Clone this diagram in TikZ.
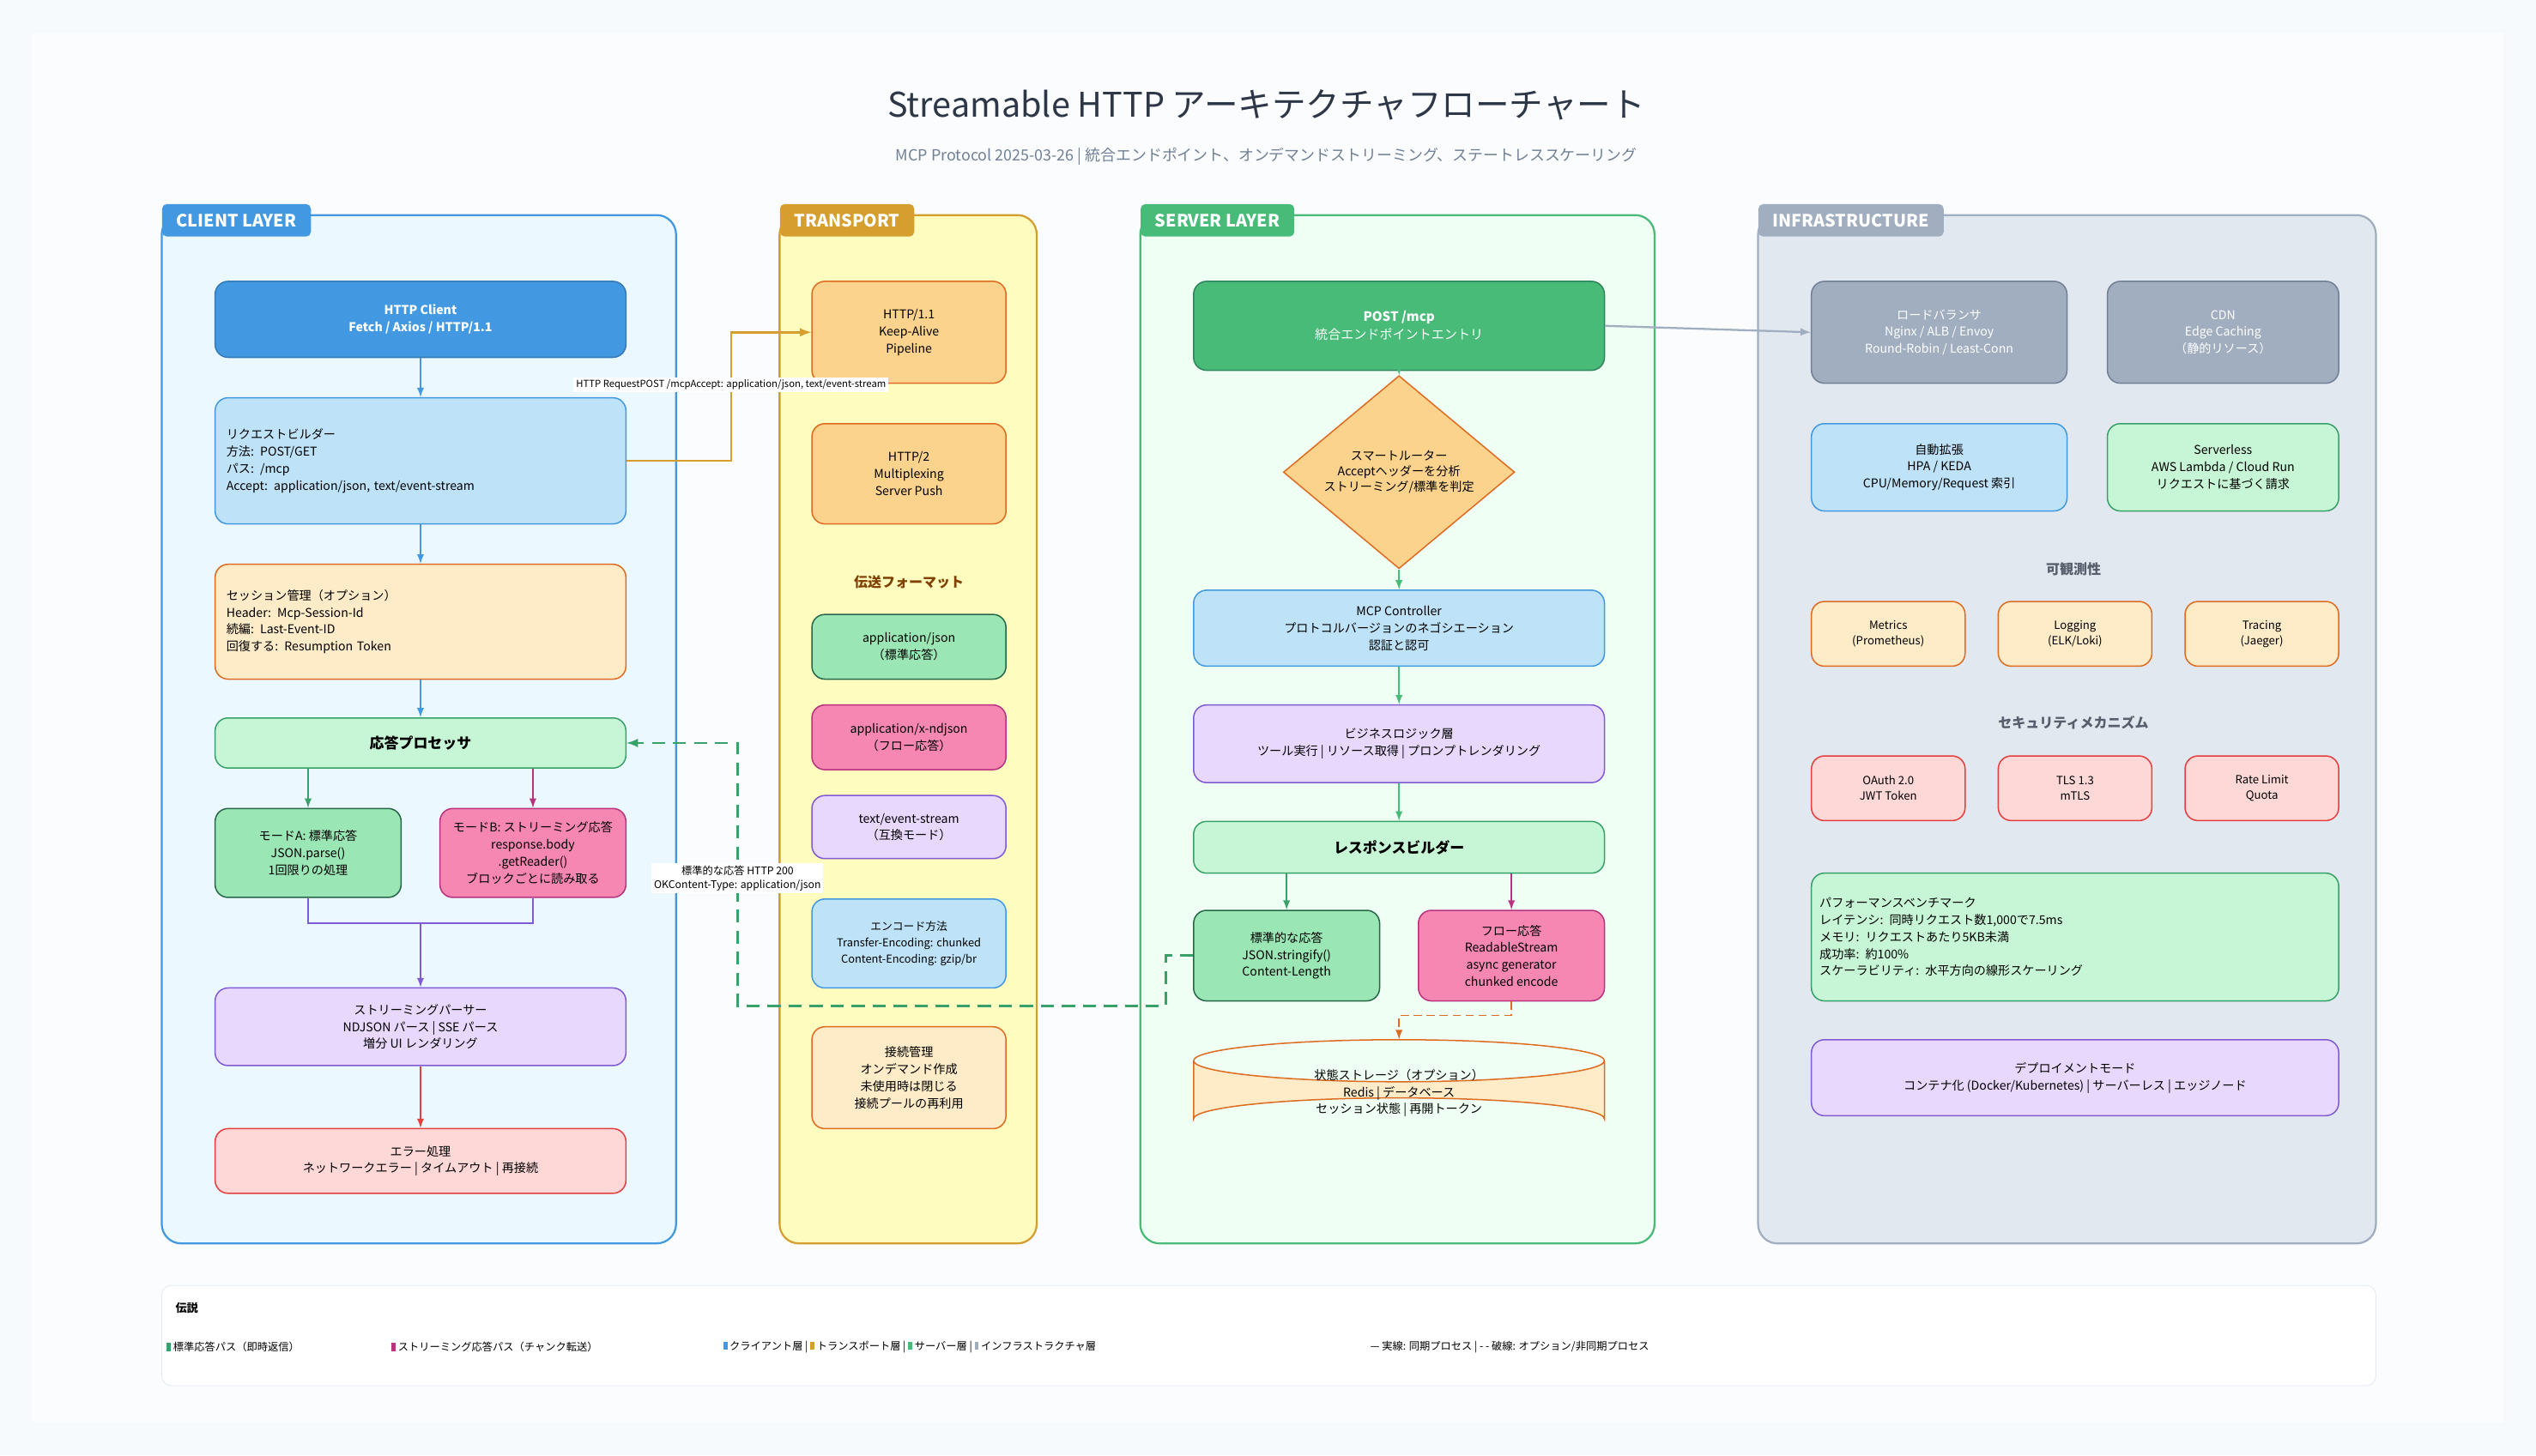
\documentclass[tikz,border=0pt]{standalone}
\usepackage{fontspec}
\setmainfont{Noto Sans CJK JP}
\usetikzlibrary{shapes.geometric,arrows}

\definecolor{bg}{HTML}{F7FAFC}
\definecolor{ink}{HTML}{2D3748}
\definecolor{subink}{HTML}{718096}
\definecolor{cblue}{HTML}{4299E1}
\definecolor{cblueL}{HTML}{BEE3F8}
\definecolor{cbluePanel}{HTML}{EBF8FF}
\definecolor{tgold}{HTML}{D69E2E}
\definecolor{tpanel}{HTML}{FEFCBF}
\definecolor{sgreen}{HTML}{48BB78}
\definecolor{sdark}{HTML}{2F855A}
\definecolor{spanel}{HTML}{F0FFF4}
\definecolor{igray}{HTML}{A0AEC0}
\definecolor{ipanel}{HTML}{E2E8F0}
\definecolor{orgL}{HTML}{FEEBC8}
\definecolor{orgM}{HTML}{FBD38D}
\definecolor{org}{HTML}{DD6B20}
\definecolor{grnL}{HTML}{C6F6D5}
\definecolor{grnM}{HTML}{9AE6B4}
\definecolor{grnD}{HTML}{276749}
\definecolor{grn}{HTML}{38A169}
\definecolor{pink}{HTML}{F687B3}
\definecolor{mag}{HTML}{B83280}
\definecolor{purL}{HTML}{E9D8FD}
\definecolor{pur}{HTML}{805AD5}
\definecolor{redL}{HTML}{FED7D7}
\definecolor{red}{HTML}{E53E3E}
\definecolor{lgnd}{HTML}{E2E8F0}

\tikzset{
  box/.style 2 args={draw=#1, fill=#2, rounded corners=8, line width=0.8,
    align=center, font=\fontsize{7.5}{10.5}\selectfont, inner sep=4},
  panel/.style 2 args={draw=#1, fill=#2, rounded corners=12, line width=1.2},
  tab/.style={fill=#1, rounded corners=3, text=white, anchor=north west,
    font=\bfseries\fontsize{10.5}{12}\selectfont, inner xsep=9, inner ysep=6},
  flow/.style={-latex, line width=1, draw=#1},
  sect/.style={font=\bfseries\fontsize{8.5}{10}\selectfont, text=#1},
  lbl/.style={fill=white, inner sep=1.5, align=center, font=\fontsize{6.5}{8.5}\selectfont},
  lg/.style={anchor=west, font=\fontsize{6.5}{8}\selectfont, inner sep=1}
}

\begin{document}
\begin{tikzpicture}[x=1pt,y=-1pt]

\fill[bg] (0,0) rectangle (1568,900);
\fill[white!40!bg] (20,20) rectangle (1548,880);

\node[text=ink, font=\fontsize{21}{24}\selectfont] (title) at (783,65) {Streamable HTTP アーキテクチャフローチャート};
\node[text=subink, font=\itshape\fontsize{9.5}{11}\selectfont] (subtitle) at (783,97)
  {MCP Protocol 2025-03-26 | 統合エンドポイント、オンデマンドストリーミング、ステートレススケーリング};

% panels
\draw[panel={cblue}{cbluePanel}] (100,133) rectangle (418,769);
\draw[panel={tgold}{tpanel}] (482,133) rectangle (641,769);
\draw[panel={sgreen}{spanel}] (705,133) rectangle (1023,769);
\draw[panel={igray}{ipanel}] (1087,133) rectangle (1469,769);
\node[tab=cblue] (tabc) at (100,126) {CLIENT LAYER};
\node[tab=tgold] (tabt) at (482,126) {TRANSPORT};
\node[tab=sgreen] (tabs) at (705,126) {SERVER LAYER};
\node[tab=igray] (tabi) at (1087,126) {INFRASTRUCTURE};

% client layer
\node[box={cblue!80!black}{cblue}, text=white, font=\bfseries\fontsize{7.5}{10.5}\selectfont,
  minimum width=254, minimum height=47] (hc) at (260,197.5) {HTTP Client\\Fetch / Axios / HTTP/1.1};
\node[box={cblue}{cblueL}, minimum width=254, minimum height=78, align=left, text width=240] (rb) at (260,285)
  {リクエストビルダー\\方法: POST/GET\\パス: /mcp\\Accept: application/json, text/event-stream};
\node[box={org}{orgL}, minimum width=254, minimum height=71, align=left, text width=240] (sm) at (260,384.5)
  {セッション管理（オプション）\\Header: Mcp-Session-Id\\続編: Last-Event-ID\\回復する: Resumption Token};
\node[box={grn}{grnL}, font=\bfseries\fontsize{9}{11}\selectfont, minimum width=254, minimum height=31] (rp) at (260,459.5) {応答プロセッサ};
\node[box={grnD}{grnM}, minimum width=115, minimum height=55] (ma) at (190.5,527.5) {モードA: 標準応答\\JSON.parse()\\1回限りの処理};
\node[box={mag}{pink}, minimum width=115, minimum height=55] (mb) at (329.5,527.5) {モードB: ストリーミング応答\\response.body\\.getReader()\\ブロックごとに読み取る};
\node[box={pur}{purL}, minimum width=254, minimum height=48] (sp) at (260,635) {ストリーミングパーサー\\NDJSON パース | SSE パース\\増分 UI レンダリング};
\node[box={red}{redL}, minimum width=254, minimum height=40] (eh) at (260,718) {エラー処理\\ネットワークエラー | タイムアウト | 再接続};

\draw[flow=cblue] (hc) -- (rb);
\draw[flow=cblue] (rb) -- (sm);
\draw[flow=cblue] (sm) -- (rp);
\draw[flow=grn] (rp.south -| ma) -- (ma);
\draw[flow=mag] (rp.south -| mb) -- (mb);
\draw[line width=1, pur] (ma.south) |- (260,571) -| (mb.south);
\draw[flow=pur] (260,571) -- (sp);
\draw[flow=red] (sp) -- (eh);

% transport
\node[box={org}{orgM}, minimum width=120, minimum height=63] (h11) at (562,205.5) {HTTP/1.1\\Keep-Alive\\Pipeline};
\node[box={org}{orgM}, minimum width=120, minimum height=62] (h2) at (562,293) {HTTP/2\\Multiplexing\\Server Push};
\node[sect={orange!50!black}] (fmt) at (562,360) {伝送フォーマット};
\node[box={grnD}{grnM}, minimum width=120, minimum height=40] (fj) at (562,400) {application/json\\（標準応答）};
\node[box={mag}{pink}, minimum width=120, minimum height=40] (fn) at (562,456) {application/x-ndjson\\（フロー応答）};
\node[box={pur}{purL}, minimum width=120, minimum height=39] (fs) at (562,511.5) {text/event-stream\\（互換モード）};
\node[box={cblue}{cblueL}, minimum width=120, minimum height=55, font=\fontsize{6.8}{10}\selectfont] (enc) at (562,583.5) {エンコード方法\\Transfer-Encoding: chunked\\Content-Encoding: gzip/br};
\node[box={org}{orgL}, minimum width=120, minimum height=63] (cm) at (562,666.5) {接続管理\\オンデマンド作成\\未使用時は閉じる\\接続プールの再利用};

% server layer
\node[box={sdark}{sgreen}, text=white, minimum width=254, minimum height=55, font=\fontsize{8}{11}\selectfont] (pm) at (865,201.5) {\textbf{POST /mcp}\\統合エンドポイントエントリ};
\node[diamond, draw=org, fill=orgM, line width=0.8, minimum width=143, minimum height=79, inner sep=0,
  align=center, font=\fontsize{7.5}{9.5}\selectfont] (sr) at (865,292) {\raisebox{6pt}{}スマートルーター\\Acceptヘッダーを分析\\ストリーミング/標準を判定};
\node[box={cblue}{cblueL}, minimum width=254, minimum height=47] (mc) at (865,388.5) {MCP Controller\\プロトコルバージョンのネゴシエーション\\認証と認可};
\node[box={pur}{purL}, minimum width=254, minimum height=48] (bl) at (865,460) {ビジネスロジック層\\ツール実行 | リソース取得 | プロンプトレンダリング};
\node[box={grn}{grnL}, font=\bfseries\fontsize{9}{11}\selectfont, minimum width=254, minimum height=32] (rsb) at (865,524) {レスポンスビルダー};
\node[box={grnD}{grnM}, minimum width=115, minimum height=56] (sr1) at (795.5,591) {標準的な応答\\JSON.stringify()\\Content-Length};
\node[box={mag}{pink}, minimum width=115, minimum height=56] (fr) at (934.5,591) {フロー応答\\ReadableStream\\async generator\\chunked encode};
\fill[orgL] (738,656) -- (738,692) arc[start angle=180, end angle=360, x radius=127, y radius=13]
  -- (992,656) arc[start angle=0, end angle=180, x radius=127, y radius=13] -- cycle;
\draw[org, line width=0.8] (738,656) -- (738,692) arc[start angle=180, end angle=360, x radius=127, y radius=13]
  -- (992,656) arc[start angle=0, end angle=-180, x radius=127, y radius=13]
  arc[start angle=180, end angle=0, x radius=127, y radius=13];
\node[align=center, font=\fontsize{7.5}{10.5}\selectfont, minimum width=254, minimum height=62] (st) at (865,674)
  {\\状態ストレージ（オプション）\\Redis | データベース\\セッション状態 | 再開トークン};

\draw[flow=sgreen] (pm) -- (sr);
\draw[flow=sgreen] (sr) -- (mc);
\draw[flow=sgreen] (mc) -- (bl);
\draw[flow=sgreen] (bl) -- (rsb);
\draw[flow=grn] (rsb.south -| sr1) -- (sr1);
\draw[flow=mag] (rsb.south -| fr) -- (fr);
\draw[flow=org, dashed, dash pattern=on 5pt off 3pt] (fr.south) -- (934.5,628) -| (st.north);

% infrastructure
\node[box={subink}{igray}, text=white, minimum width=158, minimum height=63] (lb) at (1199,205.5) {ロードバランサ\\Nginx / ALB / Envoy\\Round-Robin / Least-Conn};
\node[box={subink}{igray}, text=white, minimum width=143, minimum height=63] (cdn) at (1374.5,205.5) {CDN\\Edge Caching\\（静的リソース）};
\node[box={cblue}{cblueL}, minimum width=158, minimum height=54] (as) at (1199,289) {自動拡張\\HPA / KEDA\\CPU/Memory/Request 索引};
\node[box={grn}{grnL}, minimum width=143, minimum height=54] (sl) at (1374.5,289) {Serverless\\AWS Lambda / Cloud Run\\リクエストに基づく請求};
\node[sect={ink!80}] (obs) at (1282,352) {可観測性};
\node[sect={ink!80}] (sec) at (1282,447) {セキュリティメカニズム};
\foreach \t [count=\i] in {{Metrics\\(Prometheus)}, {Logging\\(ELK/Loki)}, {Tracing\\(Jaeger)}}
  \node[box={org}{orgL}, minimum width=95, minimum height=40, font=\fontsize{7}{9.5}\selectfont] (ob\i) at (1167.5+115.5*\i-115.5,392) {\t};
\foreach \t [count=\i] in {{OAuth 2.0\\JWT Token}, {TLS 1.3\\mTLS}, {Rate Limit\\Quota}}
  \node[box={red}{redL}, minimum width=95, minimum height=40, font=\fontsize{7}{9.5}\selectfont] (se\i) at (1167.5+115.5*\i-115.5,487.5) {\t};
\node[box={grn}{grnL}, minimum width=326, minimum height=79, align=left, text width=316] (pf) at (1283,579.5)
  {パフォーマンスベンチマーク\\レイテンシ: 同時リクエスト数1,000で7.5ms\\メモリ: リクエストあたり5KB未満\\成功率: 約100\%\\スケーラビリティ: 水平方向の線形スケーリング};
\node[box={pur}{purL}, minimum width=326, minimum height=47] (dm) at (1283,666.5) {デプロイメントモード\\コンテナ化 (Docker/Kubernetes) | サーバーレス | エッジノード};

% cross-layer connectors
\draw[flow=tgold, line width=1.4] (rb.east) -- (452,285) |- (h11.west);
\node[lbl, font=\fontsize{6}{7.5}\selectfont] (reqlbl) at (452,238) {HTTP RequestPOST /mcpAccept: application/json, text/event-stream};
\draw[flow=grn, line width=1.4, dashed, dash pattern=on 8pt off 5pt] (sr1.west) -- (721,591) |- (456,622) |- (rp.east);
\node[lbl] (reslbl) at (456,543) {標準的な応答 HTTP 200\\OKContent-Type: application/json};
\draw[flow=igray, line width=1.2] (pm.east) -- (lb.west);

% legend
\draw[fill=white, draw=lgnd, rounded corners=6] (100,795) rectangle (1469,857);
\node[anchor=west, font=\bfseries\fontsize{7}{8}\selectfont] (lgt) at (105,809) {伝説};
\node[lg] (l1) at (102,833) {\textcolor{grn}{\rule{2.5pt}{5pt}} 標準応答パス（即時返信）};
\node[lg] (l2) at (241,833) {\textcolor{mag}{\rule{2.5pt}{5pt}} ストリーミング応答パス（チャンク転送）};
\node[lg] (l3) at (446,833) {\textcolor{cblue}{\rule{2.5pt}{5pt}} クライアント層 | \textcolor{tgold}{\rule{2.5pt}{5pt}} トランスポート層 | \textcolor{sgreen}{\rule{2.5pt}{5pt}} サーバー層 | \textcolor{igray}{\rule{2.5pt}{5pt}} インフラストラクチャ層};
\node[lg] (l4) at (846,833) {— 実線: 同期プロセス | - - 破線: オプション/非同期プロセス};

\end{tikzpicture}
\end{document}
